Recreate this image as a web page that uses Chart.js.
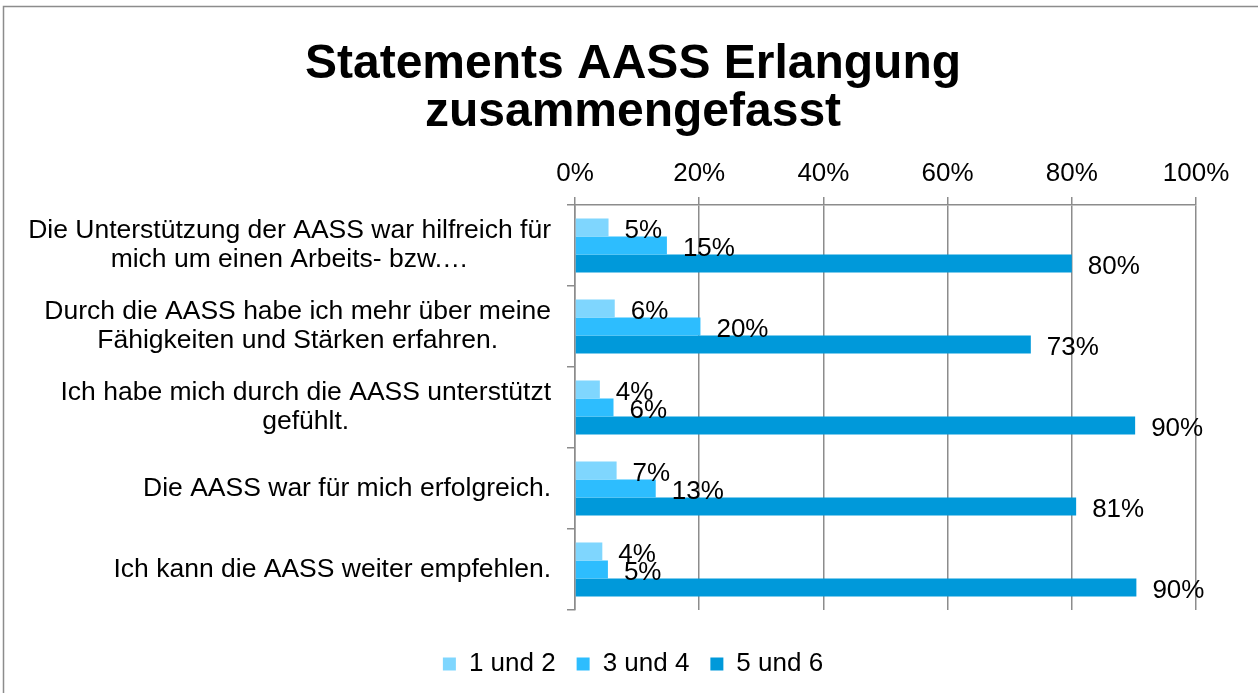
<!DOCTYPE html>
<html>
<head>
<meta charset="utf-8">
<script src="https://cdn.jsdelivr.net/npm/chart.js@4/dist/chart.umd.min.js"></script>
<style>
  html, body { margin: 0; padding: 0; background: #fff; }
  #wrap { width: 1258px; height: 693px; }
</style>
</head>
<body>
<div id="wrap"><canvas id="chart" width="1258" height="693"></canvas></div>
<script>
  // statements (y categories), wrapped the way the source chart shows them
  var statements = [
    ['Die Unterstützung der AASS war hilfreich für', 'mich um einen Arbeits- bzw.…'],
    ['Durch die AASS habe ich mehr über meine', 'Fähigkeiten und Stärken erfahren.'],
    ['Ich habe mich durch die AASS unterstützt', 'gefühlt.'],
    ['Die AASS war für mich erfolgreich.'],
    ['Ich kann die AASS weiter empfehlen.']
  ];

  var seriesNames = ['1 und 2', '3 und 4', '5 und 6'];
  var seriesColors = ['#7fd6fe', '#2dbdfe', '#0099da'];

  // percent values per series
  var rating12 = [5.4, 6.4, 4.0, 6.7, 4.4];
  var rating34 = [14.8, 20.2, 6.2, 13.0, 5.3];
  var rating56 = [80.0, 73.4, 90.2, 80.7, 90.4];

  var axisTicks = [0, 20, 40, 60, 80, 100];

  var FONT = "'Liberation Sans', Arial, sans-serif";
  var GRID = '#8c8c8c';

  // outer frame of the chart object (runs off the right/bottom edge)
  var framePlugin = {
    id: 'frame',
    beforeDraw: function(chart) {
      var ctx = chart.ctx;
      ctx.save();
      ctx.fillStyle = '#fff';
      ctx.fillRect(0, 0, chart.width, chart.height);
      ctx.strokeStyle = GRID;
      ctx.lineWidth = 1.5;
      ctx.strokeRect(3.5, 6.5, chart.width + 40, chart.height + 40);
      ctx.restore();
    }
  };

  // value labels just past the end of every bar
  var barLabelPlugin = {
    id: 'barLabels',
    afterDatasetsDraw: function(chart) {
      var ctx = chart.ctx;
      ctx.save();
      ctx.font = '26px ' + FONT;
      ctx.fillStyle = '#000';
      ctx.textAlign = 'left';
      ctx.textBaseline = 'middle';
      chart.data.datasets.forEach(function(ds, di) {
        chart.getDatasetMeta(di).data.forEach(function(bar, i) {
          ctx.fillText(Math.round(ds.data[i]) + '%', bar.x + 16, bar.y + 3);
        });
      });
      ctx.restore();
    }
  };

  // category labels: block right-aligned to the axis, lines centred in the block
  var categoryLabelPlugin = {
    id: 'categoryLabels',
    afterDraw: function(chart) {
      var ctx = chart.ctx;
      var sc = chart.scales.y;
      var right = sc.right - 24;
      var lineH = 29;
      ctx.save();
      ctx.font = '26.5px ' + FONT;
      ctx.fillStyle = '#000';
      ctx.textAlign = 'center';
      ctx.textBaseline = 'middle';
      statements.forEach(function(lines, i) {
        var y = sc.getPixelForTick(i);
        var w = Math.max.apply(null, lines.map(function(l) { return ctx.measureText(l).width; }));
        var cx = right - w / 2;
        lines.forEach(function(l, j) {
          ctx.fillText(l, cx, y + (j - (lines.length - 1) / 2) * lineH);
        });
      });
      ctx.restore();
    }
  };

  var values = [rating12, rating34, rating56];

  new Chart(document.getElementById('chart'), {
    type: 'bar',
    data: {
      labels: statements.map(function(l) { return l.join(' '); }),
      datasets: seriesNames.map(function(name, i) {
        return {
          label: name,
          data: values[i],
          backgroundColor: seriesColors[i],
          borderWidth: 0,
          categoryPercentage: 0.667,
          barPercentage: 1.0
        };
      })
    },
    options: {
      indexAxis: 'y',
      responsive: false,
      devicePixelRatio: 1,
      animation: false,
      layout: { padding: { left: 70, right: 62, top: 0, bottom: 6 } },
      scales: {
        x: {
          type: 'linear',
          position: 'top',
          min: 0,
          max: 100,
          afterBuildTicks: function(scale) {
            scale.ticks = axisTicks.map(function(v) { return { value: v }; });
          },
          ticks: {
            callback: function(v) { return v + '%'; },
            font: { family: FONT, size: 26 },
            color: '#000',
            padding: 8
          },
          grid: { color: GRID, lineWidth: 1.5, tickLength: 8 },
          border: { color: GRID, width: 1.5 },
          afterFit: function(scale) { scale.height = 68; }
        },
        gap: {
          type: 'linear',
          axis: 'x',
          position: 'bottom',
          display: true,
          grid: { display: false },
          border: { display: false },
          ticks: { display: false },
          afterFit: function(scale) { scale.height = 20; }
        },
        y: {
          type: 'category',
          position: 'left',
          ticks: { display: false },
          grid: { drawOnChartArea: false, color: GRID, lineWidth: 1.5, tickLength: 8, offset: true },
          border: { color: GRID, width: 1.5 },
          afterFit: function(scale) { scale.width = 505; }
        }
      },
      plugins: {
        title: {
          display: true,
          text: ['Statements AASS Erlangung', 'zusammengefasst'],
          color: '#000',
          font: { family: FONT, size: 48, weight: 'bold', lineHeight: 1.0 },
          padding: { top: 41, bottom: 0 }
        },
        legend: {
          position: 'bottom',
          labels: {
            boxWidth: 13,
            boxHeight: 13,
            padding: 21,
            color: '#000',
            font: { family: FONT, size: 26 }
          }
        },
        tooltip: { enabled: false }
      }
    },
    plugins: [framePlugin, barLabelPlugin, categoryLabelPlugin]
  });
</script>
</body>
</html>
